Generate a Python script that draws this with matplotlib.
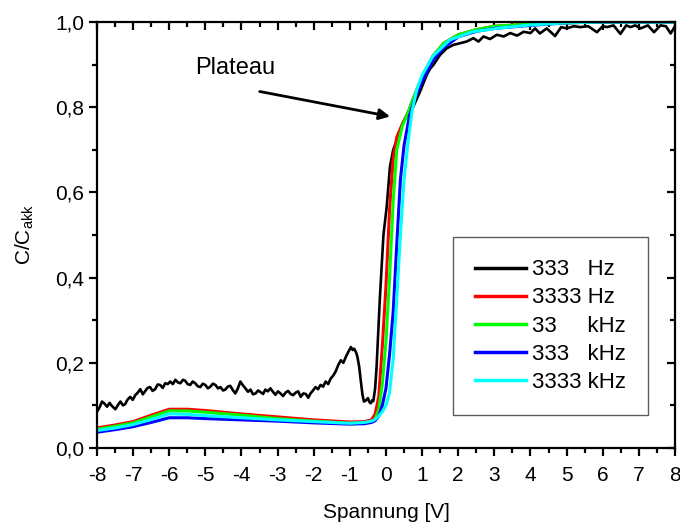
import numpy as np
import matplotlib
matplotlib.use("Agg")
import matplotlib.pyplot as plt
from matplotlib.ticker import MultipleLocator, FuncFormatter

plt.rcParams['font.family'] = ['Liberation Sans', 'DejaVu Sans']
plt.rcParams['mathtext.fontset'] = 'custom'
plt.rcParams['mathtext.rm'] = 'Liberation Sans'

# 333 Hz (verrauscht)
x_333hz = [-8.00, -7.93, -7.86, -7.79, -7.72, -7.65, -7.60, -7.53, -7.49, -7.42,
           -7.35, -7.28, -7.22, -7.15, -7.08, -7.01, -6.94, -6.87, -6.80, -6.73,
           -6.67, -6.60, -6.53, -6.46, -6.39, -6.32, -6.25, -6.18, -6.11, -6.04,
           -5.97, -5.90, -5.83, -5.76, -5.69, -5.62, -5.56, -5.49, -5.42, -5.35,
           -5.28, -5.21, -5.14, -5.07, -5.00, -4.93, -4.86, -4.79, -4.72, -4.65,
           -4.58, -4.51, -4.45, -4.38, -4.31, -4.24, -4.17, -4.10, -4.03, -3.96,
           -3.89, -3.82, -3.75, -3.68, -3.61, -3.54, -3.47, -3.40, -3.34, -3.27,
           -3.20, -3.13, -3.06, -2.99, -2.92, -2.85, -2.78, -2.71, -2.64, -2.57,
           -2.50, -2.43, -2.36, -2.29, -2.22, -2.15, -2.09, -2.02, -1.95, -1.88,
           -1.81, -1.74, -1.67, -1.60, -1.53, -1.46, -1.39, -1.32, -1.25, -1.18,
           -1.11, -1.04, -0.97, -0.92, -0.88, -0.83, -0.79, -0.74, -0.70, -0.65,
           -0.61, -0.55, -0.50, -0.46, -0.42, -0.38, -0.35, -0.30,
           -0.26, -0.17, -0.07, 0.02, 0.11, 0.20, 0.30, 0.47, 0.60, 0.75,
           0.94, 1.13, 1.22, 1.31, 1.50, 1.68, 1.86, 2.05, 2.23, 2.42,
           2.56, 2.70, 2.88, 3.07, 3.26, 3.44, 3.63, 3.81, 4.00, 4.13,
           4.26, 4.45, 4.68, 4.85, 5.00, 5.20, 5.38, 5.60, 5.84, 6.00,
           6.12, 6.30, 6.49, 6.65, 6.77, 6.90, 7.05, 7.25, 7.42, 7.60,
           7.75, 7.88, 8.00]
c_333hz = [0.085, 0.095, 0.109, 0.104, 0.097, 0.106, 0.100, 0.094, 0.091, 0.101,
           0.109, 0.100, 0.103, 0.114, 0.120, 0.113, 0.124, 0.130, 0.138, 0.126,
           0.133, 0.141, 0.143, 0.134, 0.138, 0.149, 0.148, 0.141, 0.152, 0.150,
           0.156, 0.150, 0.160, 0.154, 0.152, 0.160, 0.158, 0.150, 0.148, 0.156,
           0.152, 0.145, 0.143, 0.151, 0.148, 0.140, 0.144, 0.151, 0.148, 0.140,
           0.143, 0.135, 0.137, 0.144, 0.146, 0.136, 0.128, 0.140, 0.156, 0.147,
           0.140, 0.132, 0.137, 0.126, 0.128, 0.135, 0.131, 0.127, 0.137, 0.133,
           0.140, 0.132, 0.125, 0.133, 0.128, 0.122, 0.130, 0.134, 0.127, 0.124,
           0.130, 0.133, 0.120, 0.128, 0.127, 0.118, 0.128, 0.135, 0.143, 0.138,
           0.148, 0.144, 0.156, 0.150, 0.163, 0.170, 0.180, 0.195, 0.206, 0.200,
           0.214, 0.226, 0.237, 0.230, 0.233, 0.225, 0.214, 0.190, 0.160, 0.125,
           0.109, 0.112, 0.117, 0.108, 0.105, 0.112, 0.110, 0.140,
           0.190, 0.350, 0.500, 0.566, 0.660, 0.700, 0.723, 0.763, 0.785, 0.800,
           0.836, 0.876, 0.890, 0.899, 0.923, 0.938, 0.946, 0.950, 0.954, 0.962,
           0.954, 0.966, 0.960, 0.970, 0.966, 0.974, 0.968, 0.977, 0.974, 0.985,
           0.973, 0.985, 0.967, 0.988, 0.985, 0.990, 0.988, 0.990, 0.976, 0.990,
           0.988, 0.992, 0.972, 0.992, 0.988, 0.992, 0.985, 0.992, 0.976, 0.992,
           0.990, 0.973, 0.990]

# 3333 Hz und 33 kHz
x_rg = [-8, -7.5, -7, -6.5, -6, -5.5, -5, -4, -3, -2, -1, -0.6, -0.4, -0.3, -0.2,
        -0.1, 0, 0.1, 0.2, 0.3, 0.45, 0.6, 0.8, 1.0, 1.3, 1.6, 2.0, 2.5, 3.0,
        4.0, 5.0, 6.0, 8.0]
c_3333hz = [0.047, 0.054, 0.062, 0.077, 0.091, 0.091, 0.088, 0.080, 0.073, 0.066,
            0.061, 0.062, 0.066, 0.080, 0.120, 0.240, 0.380, 0.560, 0.680, 0.730,
            0.760, 0.785, 0.830, 0.870, 0.920, 0.950, 0.970, 0.982, 0.990, 0.995,
            0.998, 1.0, 1.0]
c_33khz = [0.044, 0.051, 0.059, 0.073, 0.087, 0.087, 0.084, 0.077, 0.069, 0.063,
           0.058, 0.059, 0.062, 0.068, 0.090, 0.150, 0.250, 0.400, 0.580, 0.700,
           0.755, 0.785, 0.830, 0.870, 0.920, 0.950, 0.970, 0.982, 0.990, 0.995,
           0.998, 1.0, 1.0]

# 333 kHz
x_333khz = [-8, -7.5, -7, -6.5, -6, -5.5, -5, -4, -3, -2, -1, -0.6, -0.4, -0.3,
            -0.2, -0.1, 0, 0.1, 0.2, 0.3, 0.4, 0.5, 0.65, 0.8, 1.0, 1.3, 1.6,
            2.0, 2.5, 3.0, 4.0, 5.0, 6.0, 8.0]
c_333khz = [0.037, 0.043, 0.050, 0.060, 0.071, 0.071, 0.069, 0.066, 0.063, 0.059,
            0.056, 0.057, 0.060, 0.064, 0.075, 0.100, 0.140, 0.220, 0.320, 0.480,
            0.630, 0.710, 0.780, 0.820, 0.860, 0.910, 0.940, 0.965, 0.978, 0.985,
            0.992, 0.998, 1.0, 1.0]

# 3333 kHz
x_3333khz = [-8, -7.5, -7, -6.5, -6, -5.5, -5, -4, -3, -2, -1, -0.6, -0.4, -0.3,
             -0.2, -0.1, 0, 0.1, 0.2, 0.3, 0.4, 0.5, 0.6, 0.72, 0.85, 1.0, 1.3,
             1.77, 2.4, 3.16, 4.0, 5.0, 6.0, 8.0]
c_3333khz = [0.041, 0.047, 0.055, 0.067, 0.080, 0.079, 0.076, 0.071, 0.066, 0.062,
             0.058, 0.060, 0.063, 0.067, 0.075, 0.085, 0.100, 0.130, 0.210, 0.350,
             0.500, 0.630, 0.710, 0.790, 0.840, 0.875, 0.920, 0.958, 0.977, 0.986,
             0.993, 0.998, 1.0, 1.0]

labels = ["333   Hz", "3333 Hz", "33     kHz", "333   kHz", "3333 kHz"]
farben = ["black", "#ff0000", "#00ff00", "#0000ff", "#00ffff"]

fig = plt.figure(figsize=(6.8, 5.27), dpi=100)
ax = fig.add_axes([0.1426, 0.1499, 0.85, 0.8084])

ax.plot(x_333hz, c_333hz, color=farben[0], lw=1.9, label=labels[0])
ax.plot(x_rg, c_3333hz, color=farben[1], lw=2.2, label=labels[1])
ax.plot(x_rg, c_33khz, color=farben[2], lw=2.2, label=labels[2])
ax.plot(x_333khz, c_333khz, color=farben[3], lw=2.2, label=labels[3])
ax.plot(x_3333khz, c_3333khz, color=farben[4], lw=2.2, label=labels[4])

ax.set_xlim(-8, 8)
ax.set_ylim(0, 1.0)
ax.xaxis.set_major_locator(MultipleLocator(1))
ax.xaxis.set_minor_locator(MultipleLocator(0.5))
ax.yaxis.set_major_locator(MultipleLocator(0.2))
ax.yaxis.set_minor_locator(MultipleLocator(0.1))
ax.yaxis.set_major_formatter(FuncFormatter(lambda v, p: f"{v:.1f}".replace(".", ",")))
ax.xaxis.set_major_formatter(FuncFormatter(lambda v, p: f"{v:.0f}"))

for s in ax.spines.values():
    s.set_linewidth(1.6)
ax.tick_params(which="major", direction="out", length=6, width=1.6, labelsize=15)
ax.tick_params(which="minor", direction="out", length=3.5, width=1.6)
ax.tick_params(axis="x", which="major", pad=7)
ax.tick_params(axis="y", which="major", pad=3)
ax.tick_params(which="both", top=True, right=True, labeltop=False, labelright=False)
# oben/rechts nach innen
for t in ax.xaxis.get_major_ticks() + ax.xaxis.get_minor_ticks():
    t.tick2line.set_marker(3)
for t in ax.yaxis.get_major_ticks() + ax.yaxis.get_minor_ticks():
    t.tick2line.set_marker(0)

ax.set_xlabel("Spannung [V]", fontsize=15, labelpad=13)
ax.set_ylabel(r"C/C$_{\mathregular{akk}}$", fontsize=15, labelpad=14)

ax.annotate("", xy=(0.19, 0.777), xytext=(-3.57, 0.838),
            arrowprops=dict(arrowstyle="-|>", color="black", lw=2, mutation_scale=16))
ax.text(-4.18, 0.892, "Plateau", fontsize=17, ha="center", va="center")

leg = ax.legend(loc="upper left", bbox_to_anchor=(0.616, 0.495), fontsize=16,
                frameon=True, fancybox=False, handlelength=2.3, handletextpad=0.25,
                labelspacing=0.32, borderpad=1.0, borderaxespad=0)
leg.get_frame().set_edgecolor("#333333")
leg.get_frame().set_linewidth(1.0)
for h in leg.get_lines():
    h.set_linewidth(2.5)

fig.savefig("out.png", dpi=100)
